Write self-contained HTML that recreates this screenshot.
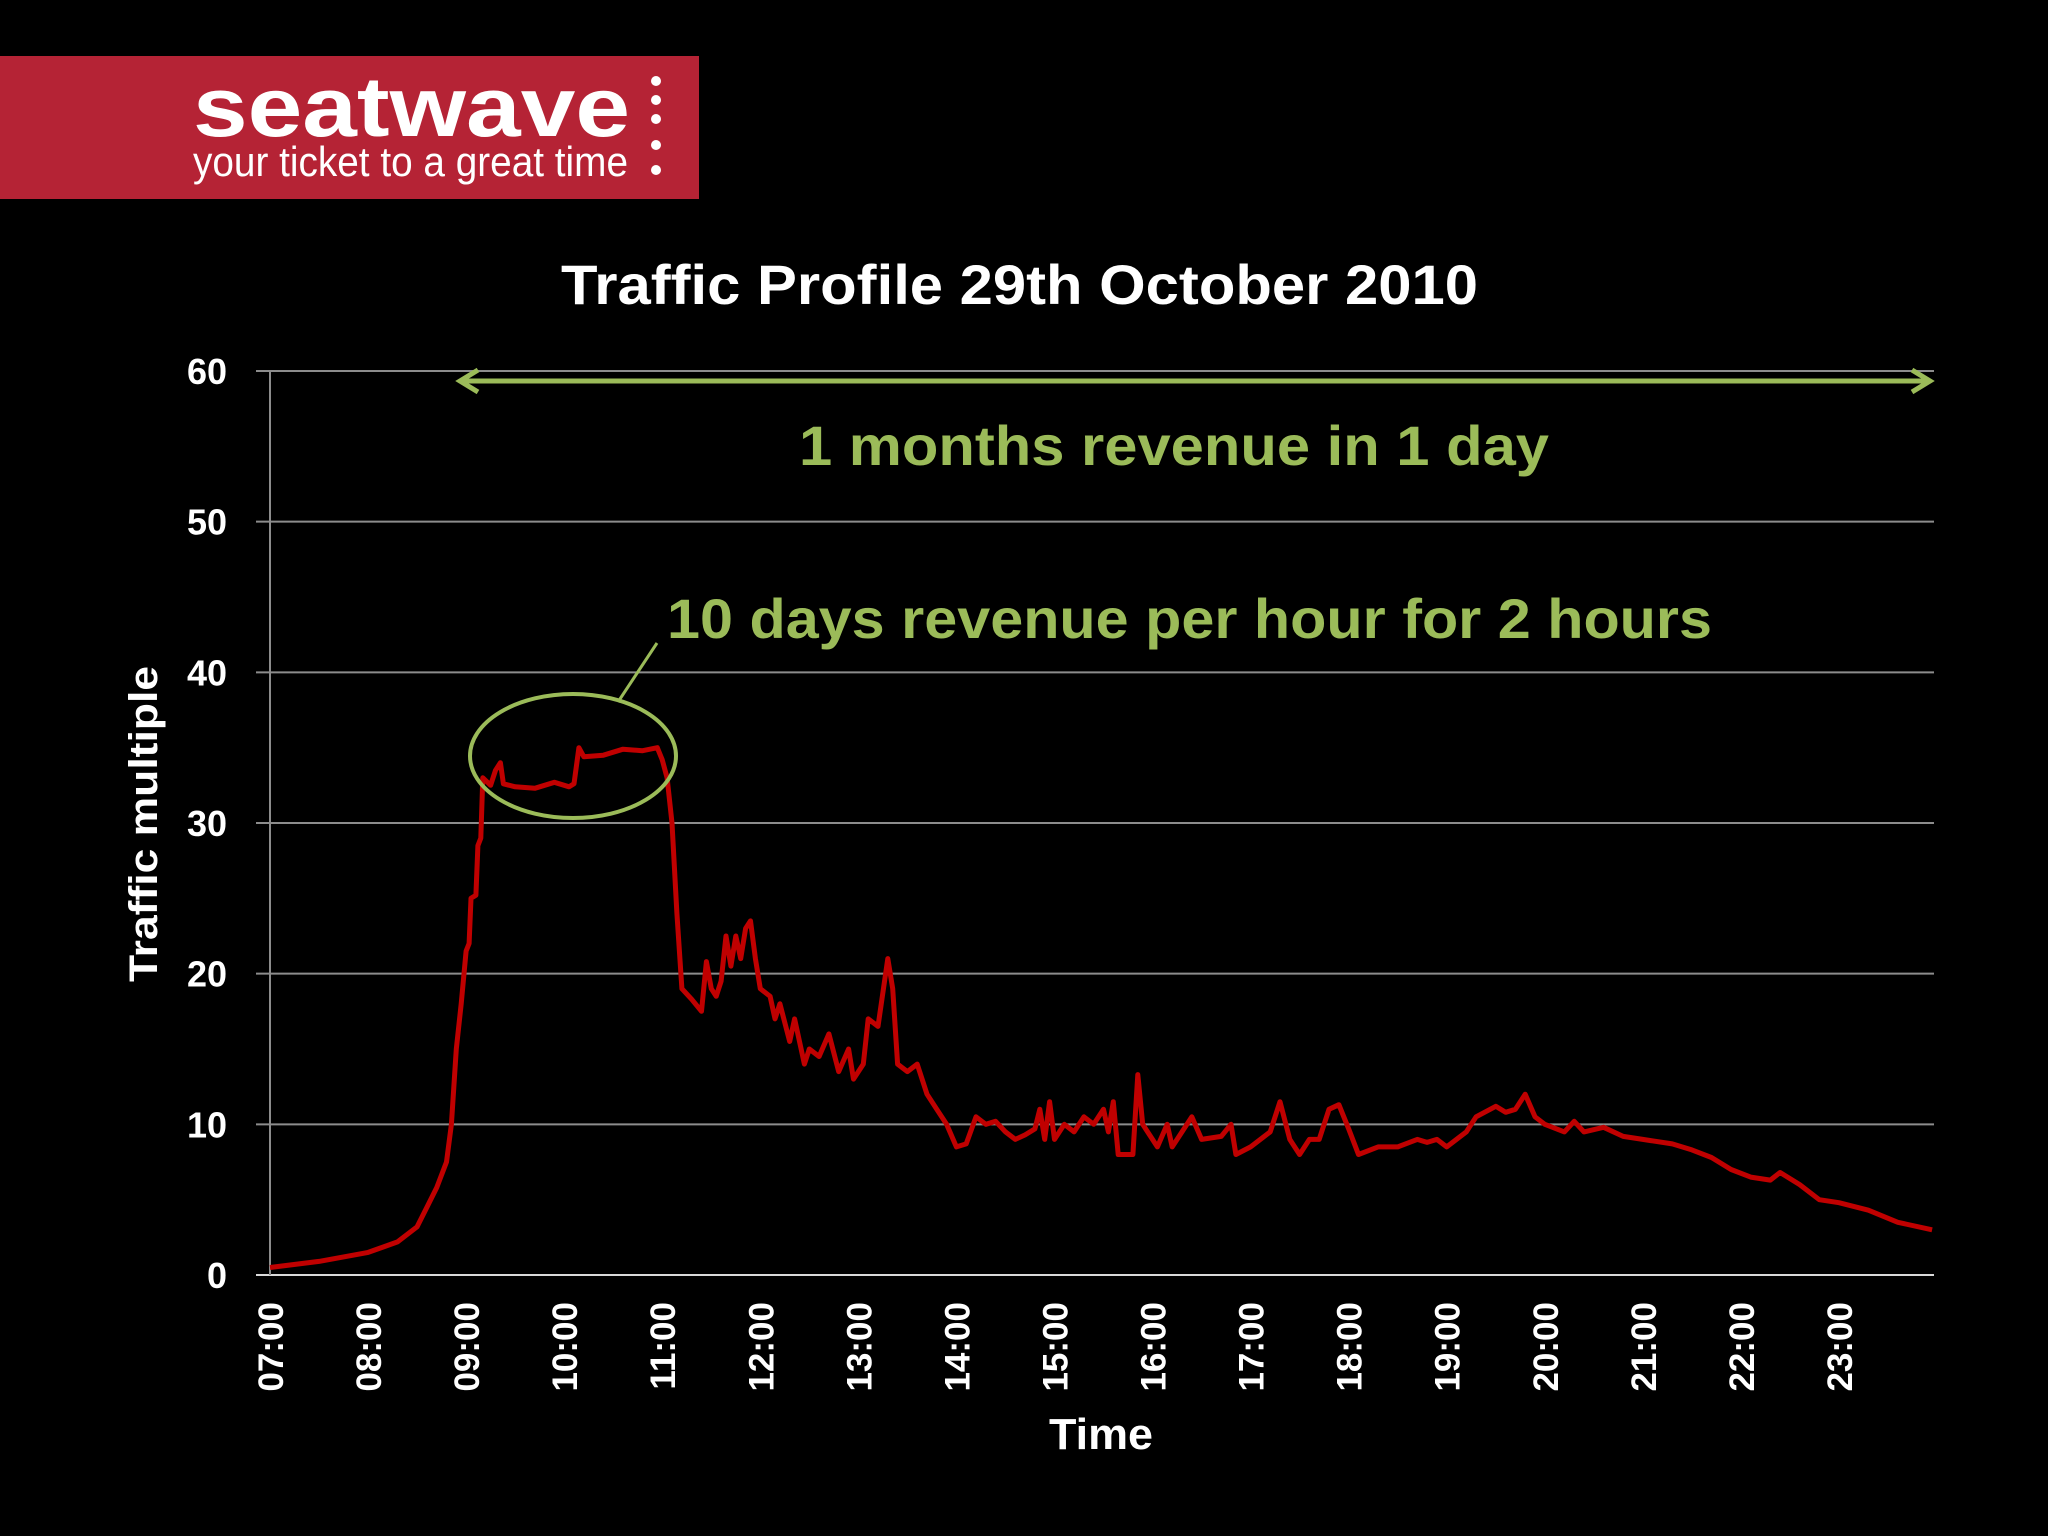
<!DOCTYPE html>
<html><head><meta charset="utf-8"><style>
html,body{margin:0;padding:0;background:#000;}
svg{display:block;}
text{font-family:"Liberation Sans",sans-serif;}
</style></head><body>
<svg id="chart" width="2048" height="1536" viewBox="0 0 2048 1536" xmlns="http://www.w3.org/2000/svg">
<rect width="2048" height="1536" fill="#000"/>
<g>
<rect x="0" y="56" width="699" height="143" fill="#b52335"/>
<text x="193" y="136" fill="#fff" font-size="84" font-weight="bold" textLength="437" lengthAdjust="spacingAndGlyphs">seatwave</text>
<text x="193" y="176" fill="#fff" font-size="42" textLength="435" lengthAdjust="spacingAndGlyphs">your ticket to a great time</text>
<g fill="#fff"><circle cx="656" cy="81" r="5"/><circle cx="656" cy="100" r="5"/><circle cx="656" cy="119" r="5"/><circle cx="656" cy="145" r="5"/><circle cx="656" cy="170" r="5"/></g>
</g>
<text x="561" y="304" fill="#fff" font-size="56" font-weight="bold" textLength="917" lengthAdjust="spacingAndGlyphs">Traffic Profile 29th October 2010</text>
<g id="grid"></g>
<g id="axes"></g>
<path id="series" fill="none" stroke="#c00000" stroke-width="5" stroke-linejoin="round"/>
<g stroke="#9bbb59" fill="none">
<line x1="462" y1="381" x2="1928" y2="381" stroke-width="5"/>
<polyline points="478,370 460,381 478,392" stroke-width="5"/>
<polyline points="1912,370 1930,381 1912,392" stroke-width="5"/>
<ellipse cx="573" cy="756" rx="103" ry="62" stroke-width="4"/>
<line x1="657" y1="643" x2="618" y2="702" stroke-width="3"/>
</g>
<text x="799" y="465" fill="#9bbb59" font-size="56" font-weight="bold" textLength="750" lengthAdjust="spacingAndGlyphs">1 months revenue in 1 day</text>
<text x="667" y="638" fill="#9bbb59" font-size="56" font-weight="bold" textLength="1045" lengthAdjust="spacingAndGlyphs">10 days revenue per hour for 2 hours</text>
<text transform="translate(157,824) rotate(-90)" text-anchor="middle" fill="#fff" font-size="40" font-weight="bold" textLength="316" lengthAdjust="spacingAndGlyphs">Traffic multiple</text>
<text x="1101" y="1449" text-anchor="middle" fill="#fff" font-size="44" font-weight="bold" textLength="104" lengthAdjust="spacingAndGlyphs">Time</text>
</svg>
<script>
const yTicks = [0,10,20,30,40,50,60];
const xTickHours = [7,8,9,10,11,12,13,14,15,16,17,18,19,20,21,22,23];
const xTickLabels = ["07:00","08:00","09:00","10:00","11:00","12:00","13:00","14:00","15:00","16:00","17:00","18:00","19:00","20:00","21:00","22:00","23:00"];
const times = [7,7.5,8,8.3,8.5,8.6,8.7,8.8,8.85,8.9,8.95,9,9.03,9.05,9.1,9.12,9.15,9.17,9.25,9.3,9.35,9.38,9.5,9.7,9.9,10.05,10.1,10.15,10.2,10.4,10.6,10.8,10.95,11,11.05,11.1,11.15,11.2,11.3,11.4,11.45,11.5,11.55,11.6,11.65,11.7,11.75,11.8,11.85,11.9,11.95,12,12.1,12.15,12.2,12.3,12.35,12.45,12.5,12.6,12.7,12.8,12.9,12.95,13.05,13.1,13.2,13.3,13.35,13.4,13.5,13.6,13.7,13.8,13.9,14,14.1,14.2,14.3,14.4,14.5,14.6,14.7,14.8,14.85,14.9,14.95,15,15.1,15.2,15.3,15.4,15.5,15.55,15.6,15.65,15.8,15.85,15.9,16,16.05,16.15,16.2,16.3,16.4,16.5,16.7,16.8,16.85,17,17.1,17.2,17.3,17.4,17.5,17.6,17.7,17.8,17.9,18,18.1,18.3,18.5,18.7,18.8,18.9,19,19.1,19.2,19.3,19.5,19.6,19.7,19.8,19.9,20,20.2,20.3,20.4,20.6,20.8,21,21.3,21.5,21.7,21.9,22.1,22.3,22.4,22.6,22.8,23,23.3,23.6,23.95];
const traffic = [0.5,0.9,1.5,2.2,3.2,4.5,5.8,7.5,10,15,18,21.5,22,25,25.2,28.5,29,33,32.5,33.5,34,32.6,32.4,32.3,32.7,32.4,32.6,35,34.4,34.5,34.9,34.8,35,34.2,33,30,24,19,18.3,17.5,20.8,19,18.5,19.5,22.5,20.5,22.5,21,23,23.5,21,19,18.5,17,18,15.5,17,14,15,14.5,16,13.5,15,13,14,17,16.5,21,19,14,13.5,14,12,11,10,8.5,8.7,10.5,10,10.2,9.5,9,9.3,9.7,11,9,11.5,9,10,9.5,10.5,10,11,9.5,11.5,8,8,13.3,10,9,8.5,10,8.5,9.5,10.5,9,9.2,10,8,8.5,9,9.5,11.5,9,8,9,9,11,11.3,9.7,8,8.5,8.5,9,8.8,9,8.5,9,9.5,10.5,11.2,10.8,11,12,10.5,10,9.5,10.2,9.5,9.8,9.2,9,8.7,8.3,7.8,7,6.5,6.3,6.8,6,5,4.8,4.3,3.5,3.0];

const X0=270, HOUR=98.06, Y0=1275, YTOP=371, YMAX=60, XEND=1934;
const xs = h => X0 + (h-7)*HOUR;
const ys = v => Y0 - v/YMAX*(Y0-YTOP);
const NS="http://www.w3.org/2000/svg";
const grid=document.getElementById('grid'), axes=document.getElementById('axes');
yTicks.forEach(v=>{
  const l=document.createElementNS(NS,'line');
  
  
  l.setAttribute('x1',256);l.setAttribute('x2',XEND);l.setAttribute('y1',ys(v));l.setAttribute('y2',ys(v));
  l.setAttribute('stroke', v===0?'#d9d9d9':'#8c8c8c');l.setAttribute('stroke-width',2);
  grid.appendChild(l);
  const t=document.createElementNS(NS,'text');
  
  
  t.setAttribute('x',227);t.setAttribute('y',ys(v)+13);t.setAttribute('text-anchor','end');
  t.setAttribute('fill','#fff');t.setAttribute('font-size',36);t.setAttribute('font-weight','bold');
  t.textContent=String(v);axes.appendChild(t);
});
const ya=document.createElementNS(NS,'line');


ya.setAttribute('x1',X0);ya.setAttribute('x2',X0);ya.setAttribute('y1',YTOP);ya.setAttribute('y2',Y0);
ya.setAttribute('stroke','#8c8c8c');ya.setAttribute('stroke-width',2);axes.appendChild(ya);
xTickHours.forEach((h,i)=>{
  const t=document.createElementNS(NS,'text');
  
  
  t.setAttribute('transform','translate('+(xs(h)+13)+',1302) rotate(-90)');
  t.setAttribute('text-anchor','end');t.setAttribute('fill','#fff');
  t.setAttribute('font-size',35);t.setAttribute('font-weight','bold');
  t.textContent=xTickLabels[i];axes.appendChild(t);
});
document.getElementById('series').setAttribute('d', times.map((h,i)=>(i?'L':'M')+xs(h).toFixed(1)+','+ys(traffic[i]).toFixed(1)).join(''));
</script>
</body></html>
